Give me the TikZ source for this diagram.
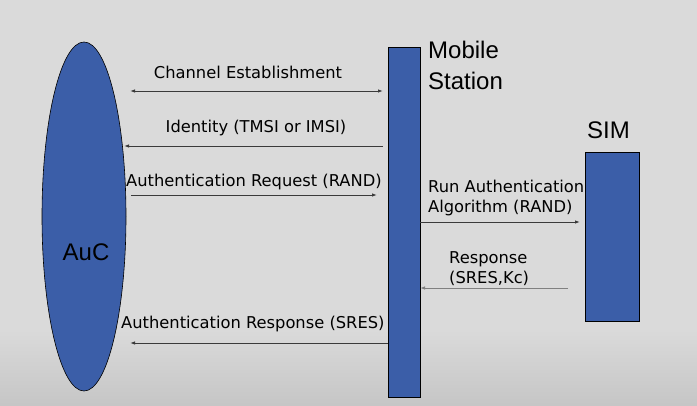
\documentclass[tikz,border=0pt]{standalone}
\usepackage{fontspec}
\setmainfont{DejaVu Sans}
\newfontfamily\headfont{Liberation Sans}
\usetikzlibrary{shapes.geometric,arrows.meta}

\definecolor{bgGray}{HTML}{DADADA}
\definecolor{boxBlue}{HTML}{3B5EA8}
\definecolor{lineGray}{HTML}{3A3A3A}

\tikzset{
  entity/.style={draw=black,fill=boxBlue,line width=0.6pt,inner sep=0pt},
  msg/.style={draw=lineGray,line width=0.9pt,-{Latex[length=5pt,width=3.5pt]}},
  msgtext/.style={font=\fontsize{16.3}{20}\selectfont,inner sep=0pt},
  head/.style={font=\headfont\fontsize{24}{31}\selectfont,inner sep=0pt,align=left}
}

\begin{document}
\begin{tikzpicture}[x=1pt,y=-1pt]
	\fill[bgGray] (0,0) rectangle (697,406);
	\shade[top color=bgGray,bottom color=gray!45] (0,330) rectangle (697,406);
	\useasboundingbox (0,0) rectangle (697,406);

	% the three parties
	\node[entity,ellipse,minimum width=84pt,minimum height=349pt] (AuC) at (84,216.5) {};
	\node[entity,rectangle,minimum width=32pt,minimum height=350pt] (MS) at (404,222) {};
	\node[entity,rectangle,minimum width=54pt,minimum height=169pt] (SIM) at (612,236.5) {};
	\node[head] (AuCtext) at (86,252) {AuC};
	\node[head,anchor=north west] (MStext) at (428,41) {Mobile\\Station};
	\node[head,anchor=south west] (SIMtext) at (587,139) {SIM};

	% end points of the messages
	\coordinate (c1a) at (130,91);   \coordinate (c1b) at (383,91);
	\coordinate (c2a) at (383,146);  \coordinate (c2b) at (124,146);
	\coordinate (c3a) at (131,195);  \coordinate (c3b) at (377,195);
	\coordinate (c4a) at (420,222);  \coordinate (c4b) at (580,222);
	\coordinate (c5a) at (568,288);  \coordinate (c5b) at (420,288);
	\coordinate (c6a) at (388,343);  \coordinate (c6b) at (130,343);

	\path
	     (c1a) edge[msg,{Latex[length=5pt,width=3.5pt]}-{Latex[length=5pt,width=3.5pt]}] (c1b)
	     (c2a) edge[msg] (c2b)
	     (c3a) edge[msg] (c3b)
	     (c4a) edge[msg] (c4b)
	     (c5a) edge[msg,draw=gray] (c5b)
	     (c6a) edge[msg] (c6b);

	% message labels
	\node[msgtext] (L1) at (248,72) {Channel Establishment};
	\node[msgtext] (L2) at (256,128) {Identity (TMSI or IMSI)};
	\node[msgtext,anchor=west] (L3) at (126,182) {Authentication Request (RAND)};
	\node[msgtext,anchor=west,align=left] (L4) at (428,198) {Run Authentication\\Algorithm (RAND)};
	\node[msgtext,anchor=west,align=left] (L5) at (449,269) {Response\\(SRES,Kc)};
	\node[msgtext,anchor=west] (L6) at (121,324) {Authentication Response (SRES)};
\end{tikzpicture}
\end{document}
